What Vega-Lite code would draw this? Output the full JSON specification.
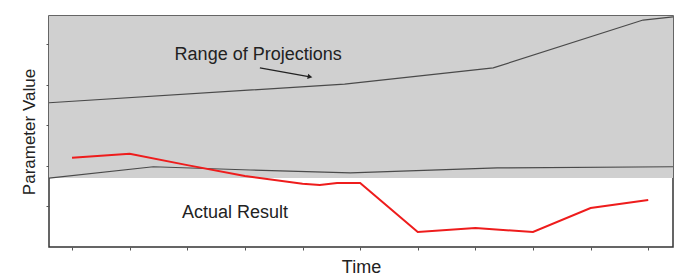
{
  "$schema": "https://vega.github.io/schema/vega-lite/v6.json",
  "width": 624,
  "height": 231,
  "autosize": {"type": "none"},
  "padding": {"left": 49, "top": 16, "right": 8, "bottom": 29},
  "background": "white",
  "config": {
    "view": {"stroke": "#333333", "strokeWidth": 1.5},
    "font": "Liberation Sans"
  },
  "datasets": {
    "band": [{"t0": -0.4, "t1": 10.43, "lo": 1.70, "hi": 5.7}],
    "upper": [
      {"t": -0.4, "v": 3.56},
      {"t": 4.73, "v": 4.02},
      {"t": 7.31, "v": 4.42},
      {"t": 9.91, "v": 5.60},
      {"t": 10.43, "v": 5.68}
    ],
    "lower": [
      {"t": -0.4, "v": 1.70},
      {"t": 1.41, "v": 1.98},
      {"t": 3.09, "v": 1.90},
      {"t": 4.83, "v": 1.83},
      {"t": 7.38, "v": 1.95},
      {"t": 10.43, "v": 1.98}
    ],
    "actual": [
      {"t": 0, "v": 2.20},
      {"t": 1, "v": 2.30},
      {"t": 2, "v": 2.02},
      {"t": 3, "v": 1.75},
      {"t": 4, "v": 1.56},
      {"t": 4.3, "v": 1.53},
      {"t": 4.6, "v": 1.58},
      {"t": 5, "v": 1.58},
      {"t": 6, "v": 0.37},
      {"t": 7, "v": 0.47},
      {"t": 8, "v": 0.37},
      {"t": 9, "v": 0.96},
      {"t": 10, "v": 1.16}
    ],
    "labels": [
      {"t": 3.23, "v": 4.74, "text": "Range of Projections"},
      {"t": 2.83, "v": 0.84, "text": "Actual Result"}
    ],
    "arrow": [{"t": 3.26, "v": 4.42, "t2": 4.13, "v2": 4.20}]
  },
  "layer": [
    {
      "data": {"name": "band"},
      "mark": {"type": "rect", "color": "#d0d0d0"},
      "encoding": {
        "x": {"field": "t0", "type": "quantitative",
              "scale": {"domain": [-0.4, 10.43], "nice": false, "zero": false},
              "axis": {"values": [0,1,2,3,4,5,6,7,8,9,10], "labels": false, "grid": false, "domain": false,
                       "tickSize": 3, "tickColor": "#555555", "title": "Time",
                       "titleFont": "Liberation Sans", "titleFontSize": 18, "titleFontWeight": "normal",
                       "titleColor": "#222222", "titlePadding": 8}},
        "x2": {"field": "t1"},
        "y": {"field": "lo", "type": "quantitative",
              "scale": {"domain": [0, 5.7], "nice": false, "zero": false},
              "axis": {"values": [1,2,3,4,5], "labels": false, "grid": false, "domain": false,
                       "tickSize": 3, "tickColor": "#555555", "title": "Parameter Value",
                       "titleFont": "Liberation Sans", "titleFontSize": 17, "titleFontWeight": "normal",
                       "titleColor": "#222222", "titlePadding": 7}},
        "y2": {"field": "hi"}
      }
    },
    {
      "data": {"name": "upper"},
      "mark": {"type": "line", "color": "#4a4a4a", "strokeWidth": 1.2},
      "encoding": {
        "x": {"field": "t", "type": "quantitative"},
        "y": {"field": "v", "type": "quantitative"}
      }
    },
    {
      "data": {"name": "lower"},
      "mark": {"type": "line", "color": "#4a4a4a", "strokeWidth": 1.2},
      "encoding": {
        "x": {"field": "t", "type": "quantitative"},
        "y": {"field": "v", "type": "quantitative"}
      }
    },
    {
      "data": {"name": "actual"},
      "mark": {"type": "line", "color": "#ee1c1c", "strokeWidth": 2},
      "encoding": {
        "x": {"field": "t", "type": "quantitative"},
        "y": {"field": "v", "type": "quantitative"}
      }
    },
    {
      "data": {"name": "arrow"},
      "mark": {"type": "rule", "color": "#222222", "strokeWidth": 1.2},
      "encoding": {
        "x": {"field": "t", "type": "quantitative"},
        "y": {"field": "v", "type": "quantitative"},
        "x2": {"field": "t2"},
        "y2": {"field": "v2"}
      }
    },
    {
      "data": {"name": "arrow"},
      "mark": {"type": "point", "shape": "triangle-right", "filled": true, "color": "#222222", "size": 30, "angle": 10, "opacity": 1},
      "encoding": {
        "x": {"field": "t2", "type": "quantitative"},
        "y": {"field": "v2", "type": "quantitative"}
      }
    },
    {
      "data": {"name": "labels"},
      "mark": {"type": "text", "font": "Liberation Sans", "fontSize": 18, "color": "#222222", "align": "center", "baseline": "middle"},
      "encoding": {
        "x": {"field": "t", "type": "quantitative"},
        "y": {"field": "v", "type": "quantitative"},
        "text": {"field": "text"}
      }
    }
  ]
}
